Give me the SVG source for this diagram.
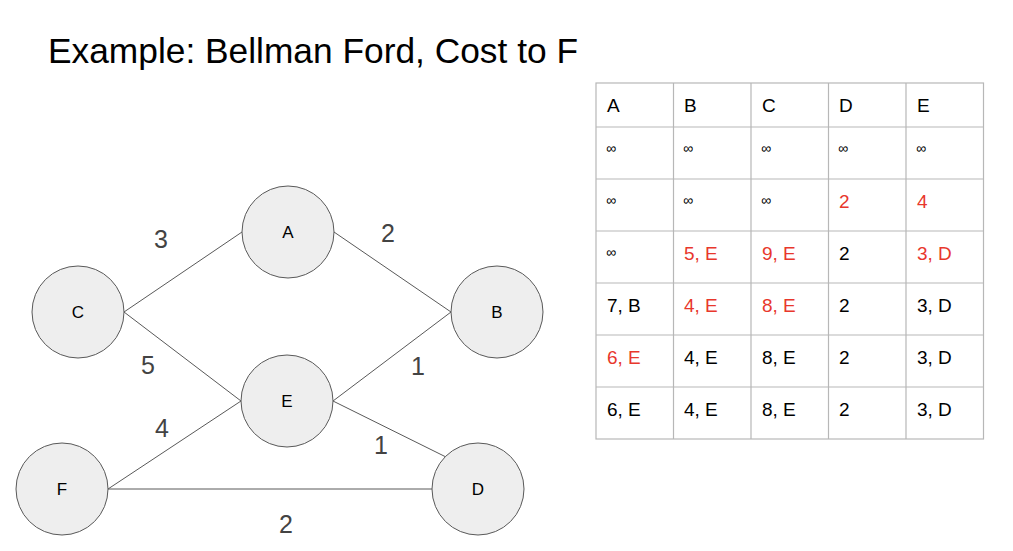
<svg xmlns="http://www.w3.org/2000/svg" width="1013" height="551" viewBox="0 0 1013 551">
<style>
.node circle{fill:#eeeeee;stroke:#595959;stroke-width:1}
.node text{font-family:"Liberation Sans",Arial,sans-serif;font-size:17px;fill:#000;text-anchor:middle}
.edge{stroke:#595959;stroke-width:1;fill:none}
.elabel{font-family:"Liberation Sans",Arial,sans-serif;font-size:25px;fill:#434343;text-anchor:middle}
.title{font-family:"Liberation Sans",Arial,sans-serif;font-size:35px;fill:#000}
.grid{stroke:#b7b7b7;stroke-width:1.2;fill:none}
.t{font-family:"Liberation Sans",Arial,sans-serif;font-size:19px;fill:#000}
.r{fill:#e8372c}
.inf{font-family:"Liberation Sans",Arial,sans-serif;font-size:14px;fill:#000}
</style>
<rect width="1013" height="551" fill="#ffffff"/>
<text class="title" x="48" y="63" textLength="530" lengthAdjust="spacingAndGlyphs">Example: Bellman Ford, Cost to F</text>

<g id="connectors">
<line class="edge" x1="124" y1="312" x2="242" y2="232"/>
<line class="edge" x1="124" y1="312" x2="241" y2="401"/>
<line class="edge" x1="334" y1="232" x2="451" y2="312"/>
<line class="edge" x1="333" y1="401" x2="451" y2="312"/>
<line class="edge" x1="333" y1="401" x2="446" y2="457"/>
<line class="edge" x1="108" y1="489" x2="432" y2="489"/>
<line class="edge" x1="108" y1="489" x2="241" y2="401"/>
<text class="elabel" x="161" y="248">3</text>
<text class="elabel" x="388" y="242">2</text>
<text class="elabel" x="148" y="374">5</text>
<text class="elabel" x="418" y="375">1</text>
<text class="elabel" x="162" y="437">4</text>
<text class="elabel" x="381" y="454">1</text>
<text class="elabel" x="286" y="533">2</text>
</g>

<g id="node-C" class="node"><circle cx="78" cy="312" r="46"/><text x="78" y="318">C</text></g>
<g id="node-A" class="node"><circle cx="288" cy="232" r="46"/><text x="288" y="238">A</text></g>
<g id="node-B" class="node"><circle cx="497" cy="312" r="46"/><text x="497" y="318">B</text></g>
<g id="node-E" class="node"><circle cx="287" cy="401" r="46"/><text x="287" y="407">E</text></g>
<g id="node-F" class="node"><circle cx="62" cy="489" r="46"/><text x="62" y="495">F</text></g>
<g id="node-D" class="node"><circle cx="478" cy="489" r="46"/><text x="478" y="495">D</text></g>

<g id="table">
<rect class="grid" x="596" y="83" width="387.5" height="356"/>
<path class="grid" d="M673.5 83V439M751 83V439M828.5 83V439M906 83V439M596 127H983.5M596 179H983.5M596 231H983.5M596 283H983.5M596 335H983.5M596 387H983.5"/>
<g class="t">
<text x="607" y="112">A</text><text x="684" y="112">B</text><text x="762" y="112">C</text><text x="839" y="112">D</text><text x="917" y="112">E</text>
</g>
<g class="inf">
<text x="606" y="153">∞</text><text x="683" y="153">∞</text><text x="761" y="153">∞</text><text x="838" y="153">∞</text><text x="916" y="153">∞</text>
<text x="606" y="205">∞</text><text x="683" y="205">∞</text><text x="761" y="205">∞</text>
<text x="606" y="257">∞</text>
</g>
<g class="t">
<text class="r" x="839" y="208">2</text><text class="r" x="917" y="208">4</text>
<text class="r" x="684" y="260">5, E</text><text class="r" x="762" y="260">9, E</text><text x="839" y="260">2</text><text class="r" x="917" y="260">3, D</text>
<text x="607" y="312">7, B</text><text class="r" x="684" y="312">4, E</text><text class="r" x="762" y="312">8, E</text><text x="839" y="312">2</text><text x="917" y="312">3, D</text>
<text class="r" x="607" y="364">6, E</text><text x="684" y="364">4, E</text><text x="762" y="364">8, E</text><text x="839" y="364">2</text><text x="917" y="364">3, D</text>
<text x="607" y="416">6, E</text><text x="684" y="416">4, E</text><text x="762" y="416">8, E</text><text x="839" y="416">2</text><text x="917" y="416">3, D</text>
</g>
</g>
</svg>
